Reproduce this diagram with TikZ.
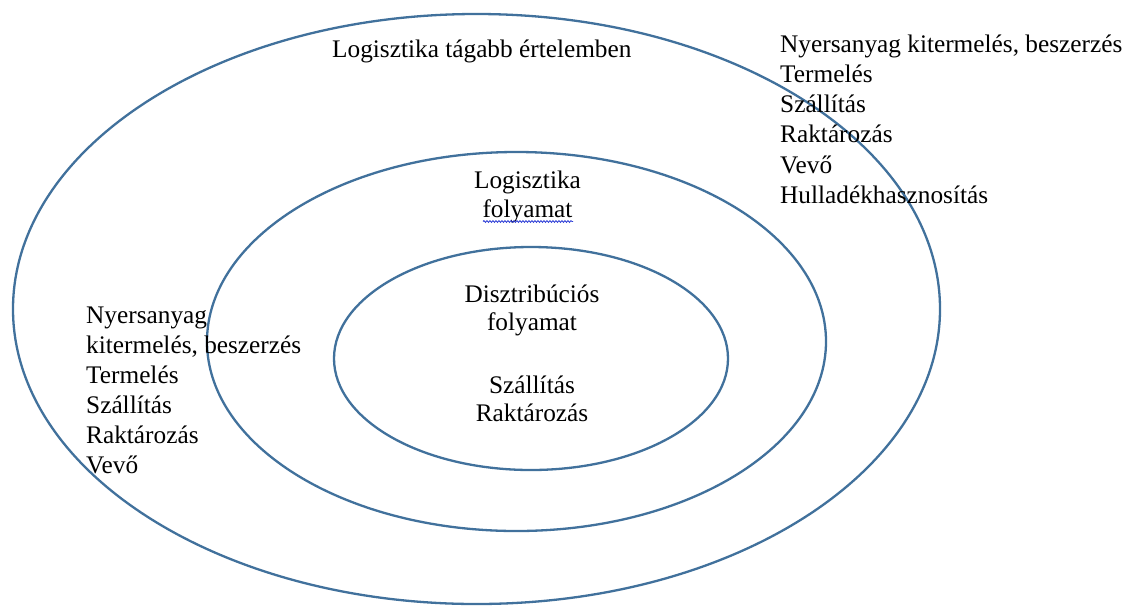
\documentclass[tikz,border=0pt]{standalone}
\usepackage{fontspec}
\setmainfont{Liberation Serif}
\usetikzlibrary{decorations.pathmorphing}
\definecolor{ringblue}{HTML}{41719C}
\definecolor{spellblue}{HTML}{2B3BD6}
\tikzset{
  ring/.style={draw=ringblue, line width=2.3pt},
  txt/.style={inner sep=0pt, font=\fontsize{25.3}{30.3}\selectfont},
  % multi-line nodes: the base anchor sits on the baseline of the last line
  listtxt/.style={txt, align=left, anchor=base west},
  midtxt/.style={txt, align=center, anchor=base},
}
\begin{document}
\begin{tikzpicture}[x=1pt,y=-1pt]
  \useasboundingbox (0,0) rectangle (1123,606);
  \fill[white] (0,0) rectangle (1123,606);

  % three nested rings
  \draw[ring] (476.5,309) ellipse [x radius=463.5pt, y radius=295pt];
  \draw[ring] (516.5,341.5) ellipse [x radius=309.5pt, y radius=189.5pt];
  \draw[ring] (531,358.5) ellipse [x radius=197pt, y radius=111.5pt];

  % outer ring title
  \node[listtxt] (title) at (332,57) {Logisztika tágabb értelemben};

  % full chain, upper right
  \node[listtxt] (chainR) at (780,203.5) {Nyersanyag kitermelés, beszerzés\\Termelés\\Szállítás\\Raktározás\\Vevő\\Hulladékhasznosítás};

  % chain without recycling, left
  \node[listtxt, font=\fontsize{25.3}{30}\selectfont] (chainL) at (86,473) {Nyersanyag\\kitermelés, beszerzés\\Termelés\\Szállítás\\Raktározás\\Vevő};

  % middle ring label
  \node[midtxt, font=\fontsize{25.3}{29}\selectfont] (logi) at (527.5,217) {Logisztika\\folyamat};
  \coordinate (wl) at (483,221.5);
  \coordinate (wr) at (573,221.5);
  \draw[spellblue, line width=0.8pt, decorate,
        decoration={snake, amplitude=0.9pt, segment length=3pt}] (wl) -- (wr);

  % inner ring labels
  \node[midtxt, font=\fontsize{25.3}{28}\selectfont] (dist) at (532,330) {Disztribúciós\\folyamat};
  \node[midtxt, font=\fontsize{25.3}{28}\selectfont] (ops) at (532,421) {Szállítás\\Raktározás};
\end{tikzpicture}
\end{document}
